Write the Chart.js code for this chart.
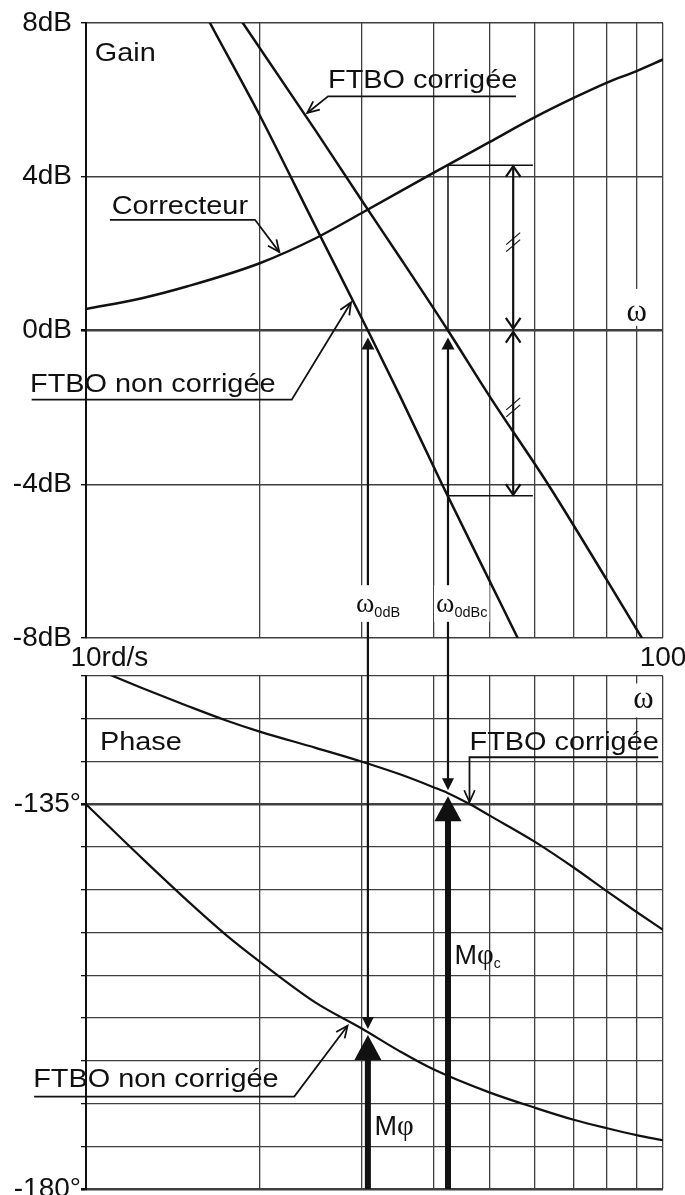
<!DOCTYPE html>
<html>
<head>
<meta charset="utf-8">
<script src="https://cdn.jsdelivr.net/npm/chart.js@4.4.1/dist/chart.umd.min.js"></script>
<style>
  html, body { margin: 0; padding: 0; background: #fff; }
  #wrap { position: relative; width: 685px; height: 1195px; overflow: hidden; }
  canvas { position: absolute; left: 0; }
  #gain { top: 0; }
  #phase { top: 673px; }
</style>
</head>
<body>
<div id="wrap">
  <canvas id="gain" width="685" height="673"></canvas>
  <canvas id="phase" width="685" height="522"></canvas>
</div>
<script>
// ---- Bode data: pulsation (rad/s) and values ----
const W_GRID = [10, 20, 30, 40, 50, 60, 70, 80, 90, 100];
const GAIN_TICKS = [-8, -4, 0, 4, 8];
const PHASE_TICKS = [-180, -175, -170, -165, -160, -155, -150, -145, -140, -135, -130, -125, -120];
const PHASE_LABELLED = [-135, -180];

// Gain (dB)
const W_GAIN_NC = [15, 16.4, 20, 25, 30.8, 35, 41.4, 50, 56, 60];
const GAIN_NC   = [9.1, 8.0, 5.6, 2.7, 0.0, -1.7, -4.0, -6.5, -8.0, -8.9];

const W_GAIN_C  = [17, 18.7, 25, 30, 35, 42.4, 50, 63.2, 80, 91.9, 100];
const GAIN_C    = [8.9, 8.0, 5.2, 3.4, 1.9, 0.0, -1.7, -4.0, -6.5, -8.0, -8.9];

const W_CORR    = [10, 12.5, 15, 20, 25, 30, 40, 50, 60, 70, 80, 90, 100];
const GAIN_CORR = [0.56, 0.84, 1.15, 1.75, 2.4, 3.05, 4.1, 4.9, 5.55, 6.05, 6.45, 6.75, 7.05];

// Phase (degrees)
const W_PHASE_NC = [10, 12.5, 15, 17.5, 20, 25, 30, 35, 40, 50, 60, 70, 80, 90, 100];
const PHASE_NC   = [-135, -141.3, -146.3, -150.3, -153.4, -158.2, -161.2, -163.9, -166.0, -168.7, -170.5, -171.9, -172.9, -173.7, -174.3];

const W_PHASE_C  = [10, 12.5, 15, 17.5, 20, 25, 30, 35, 40, 42.4, 46.3, 50, 60, 70, 80, 90, 100];
const PHASE_C    = [-118.7, -121.4, -123.5, -125.2, -126.5, -128.4, -130.0, -131.5, -133.0, -133.7, -135.0, -136.3, -139.4, -142.4, -145.2, -147.6, -149.7];

// Crossover pulsations and the values read there
const W_0DB = 30.8;            // FTBO non corrigée crosses 0 dB
const W_0DBC = 42.4;           // FTBO corrigée crosses 0 dB
const PHASE_AT_W0DB = -161.65;
const PHASE_AT_W0DBC = -133.7;
const CORR_GAIN_AT_W0DBC = 4.3;
const NC_GAIN_AT_W0DBC = -4.3;

// Annotation anchors, in axis units
const GAIN_TITLE_AT = [10.36, 7.0];
const PHASE_TITLE_AT = [10.57, -128.7];
const OMEGA_GAIN_AT = [90, 0.25];
const OMEGA_PHASE_AT = [92.5, -123.8];
const CROSS_LABEL_DB = -7.32;
const W_MARGIN_ARROW = 55;
const W_REF_END = 59.5;
const SLASH_DB = [2.3, -2.0];

const GAIN_LEADERS = [
  { text: 'FTBO corrigée', at: [26.27, 6.32], path: [[55.6, 6.09], [26.27, 6.09], [24.18, 5.66]] },
  { text: 'Correcteur', at: [11.08, 3.03], path: [[11.0, 2.88], [19.63, 2.88], [21.63, 2.04]] },
  { text: 'FTBO non corrigée', at: [8.0, -1.59], path: [[8.05, -1.80], [22.73, -1.80], [28.79, 0.73]] }
];
const PHASE_LEADERS = [
  { text: 'FTBO corrigée', at: [46.2, -128.7], path: [[98.1, -129.5], [46.2, -129.5], [46.2, -134.75]] },
  { text: 'FTBO non corrigée', at: [8.1, -168.1], path: [[8.13, -169.2], [22.96, -169.2], [28.4, -160.9]] }
];
const CROSSOVERS = [
  { w: W_0DB, sub: '0dB' },
  { w: W_0DBC, sub: '0dBc' }
];
const MARGINS = [
  { w: W_0DB, phase: PHASE_AT_W0DB, sub: '', labelAt: -173.7 },
  { w: W_0DBC, phase: PHASE_AT_W0DBC, sub: 'c', labelAt: -153.7 }
];

// ---- drawing helpers ----
const INK = '#111';
const GRID = '#3f3f3f';
const SANS = "'Liberation Sans', Arial, Helvetica, sans-serif";
const SERIF = "'Liberation Serif', 'Times New Roman', serif";

function X(chart, v) { return chart.scales.x.getPixelForValue(v); }
function Y(chart, v) { return chart.scales.y.getPixelForValue(v); }

function txt(ctx, s, x, y, size, opt = {}) {
  const family = opt.family || SANS;
  const stretch = opt.stretch === undefined ? 1.11 : opt.stretch;
  ctx.save();
  ctx.font = size + 'px ' + family;
  ctx.textBaseline = 'alphabetic';
  ctx.textAlign = 'left';
  ctx.fillStyle = INK;
  const w = ctx.measureText(s).width * stretch;
  let x0 = x;
  if (opt.align === 'center') x0 = x - w / 2;
  else if (opt.align === 'right') x0 = x - w;
  ctx.translate(x0, y);
  ctx.scale(stretch, 1);
  ctx.fillText(s, 0, 0);
  ctx.restore();
  return w;
}
function textWidth(ctx, s, size, family) {
  ctx.save(); ctx.font = size + 'px ' + family;
  const w = ctx.measureText(s).width; ctx.restore(); return w;
}
function stroke(ctx, pts, lw) {
  ctx.save();
  ctx.strokeStyle = INK; ctx.lineWidth = lw; ctx.lineJoin = 'miter'; ctx.lineCap = 'butt';
  ctx.beginPath();
  pts.forEach(([x, y], i) => i ? ctx.lineTo(x, y) : ctx.moveTo(x, y));
  ctx.stroke();
  ctx.restore();
}
function openHead(ctx, tip, from, len, ang, lw) {
  const a = Math.atan2(tip[1] - from[1], tip[0] - from[0]);
  stroke(ctx, [
    [tip[0] - len * Math.cos(a - ang), tip[1] - len * Math.sin(a - ang)],
    tip,
    [tip[0] - len * Math.cos(a + ang), tip[1] - len * Math.sin(a + ang)]
  ], lw);
}
// dir = 1 : pointing down, dir = -1 : pointing up
function solidHead(ctx, x, tipY, dir, len, half) {
  ctx.save();
  ctx.fillStyle = INK;
  ctx.beginPath();
  ctx.moveTo(x, tipY);
  ctx.lineTo(x - half, tipY - dir * len);
  ctx.lineTo(x + half, tipY - dir * len);
  ctx.closePath();
  ctx.fill();
  ctx.restore();
}
function leader(ctx, chart, L) {
  const pts = L.path.map(([w, v]) => [X(chart, w), Y(chart, v)]);
  txt(ctx, L.text, X(chart, L.at[0]), Y(chart, L.at[1]), 26);
  stroke(ctx, pts, 1.8);
  openHead(ctx, pts[pts.length - 1], pts[pts.length - 2], 13, 0.42, 1.8);
}
function crossLabelWidth(ctx, sub) {
  return textWidth(ctx, 'ω', 28, SERIF) + textWidth(ctx, sub, 14.5, SANS);
}
function crossLabel(ctx, x, base, sub) {
  const w = txt(ctx, 'ω', x, base, 28, { family: SERIF, stretch: 1 });
  txt(ctx, sub, x + w, base + 5, 14.5, { stretch: 1 });
}
function doubleArrow(ctx, x, y1, y2) {
  stroke(ctx, [[x, y1], [x, y2]], 2.2);
  openHead(ctx, [x, y1], [x, y2], 13, 0.6, 2.2);
  openHead(ctx, [x, y2], [x, y1], 13, 0.6, 2.2);
}
function slashes(ctx, x, y) {
  for (const s of [-3.5, 3.5]) stroke(ctx, [[x - 7, y + s + 6], [x + 7, y + s - 6]], 1.2);
}

function series(ws, vs, lw) {
  return {
    data: ws.map((w, i) => ({ x: w, y: vs[i] })),
    borderColor: INK,
    borderWidth: lw,
    pointRadius: 0,
    fill: false,
    cubicInterpolationMode: 'monotone'
  };
}

// ---- gain panel annotations ----
const gainNotes = {
  id: 'gainNotes',
  beforeDatasetsDraw(chart) {
    const ctx = chart.ctx;
    ctx.save();
    ctx.fillStyle = '#fff';
    const xo = X(chart, OMEGA_GAIN_AT[0]), yo = Y(chart, OMEGA_GAIN_AT[1]);
    ctx.fillRect(xo - 11, yo - 32, 22, 37);
    const base = Y(chart, CROSS_LABEL_DB);
    for (const c of CROSSOVERS) {
      const x = X(chart, c.w) - 12;
      ctx.fillRect(x - 2, base - 26.7, crossLabelWidth(ctx, c.sub) + 4, 36.7);
    }
    ctx.restore();
  },
  afterDatasetsDraw(chart) {
    const ctx = chart.ctx;
    txt(ctx, 'Gain', X(chart, GAIN_TITLE_AT[0]), Y(chart, GAIN_TITLE_AT[1]), 26);
    GAIN_LEADERS.forEach(L => leader(ctx, chart, L));
    txt(ctx, 'ω', X(chart, OMEGA_GAIN_AT[0]), Y(chart, OMEGA_GAIN_AT[1]), 31, { family: SERIF, align: 'center', stretch: 1 });

    // "rd/s" unit after the first x label
    try {
      const items = chart.scales.x.getLabelItems();
      const it = items.find(i => i.label === '10');
      if (it) {
        ctx.save();
        ctx.font = it.font.string;
        ctx.fillStyle = INK;
        ctx.textBaseline = it.options.textBaseline;
        ctx.textAlign = 'left';
        const w = ctx.measureText('10').width;
        ctx.fillText('rd/s', it.options.translation[0] + w / 2, it.options.translation[1] + it.textOffset);
        ctx.restore();
      }
    } catch (e) {}

    // correction read at the corrected crossover
    const xc = X(chart, W_0DBC), xe = X(chart, W_REF_END);
    const yTop = Y(chart, CORR_GAIN_AT_W0DBC), y0 = Y(chart, 0), yBot = Y(chart, NC_GAIN_AT_W0DBC);
    stroke(ctx, [[xc, yTop], [xc, y0]], 1.5);
    stroke(ctx, [[xc, yTop], [xe, yTop]], 1.5);
    stroke(ctx, [[xc, yBot], [xe, yBot]], 1.5);
    const xa = X(chart, W_MARGIN_ARROW);
    doubleArrow(ctx, xa, yTop + 1, y0 - 2);
    doubleArrow(ctx, xa, y0 + 1.5, yBot - 1);
    SLASH_DB.forEach(v => slashes(ctx, xa, Y(chart, v)));

    // crossover arrows
    const base = Y(chart, CROSS_LABEL_DB);
    for (const c of CROSSOVERS) {
      const x = X(chart, c.w);
      const tip = y0 + 7;
      solidHead(ctx, x, tip, -1, 12, 6.5);
      stroke(ctx, [[x, tip + 11], [x, base - 26.7]], 2.2);
      stroke(ctx, [[x, base + 10], [x, chart.height]], 2.2);
      crossLabel(ctx, x - 12, base, c.sub);
    }
  }
};

// ---- phase panel annotations ----
const phaseNotes = {
  id: 'phaseNotes',
  beforeDatasetsDraw(chart) {
    const ctx = chart.ctx;
    ctx.save();
    ctx.fillStyle = '#fff';
    const xo = X(chart, OMEGA_PHASE_AT[0]), yo = Y(chart, OMEGA_PHASE_AT[1]);
    ctx.fillRect(xo - 13, yo - 25, 26, 34);
    ctx.restore();
  },
  afterDatasetsDraw(chart) {
    const ctx = chart.ctx;
    txt(ctx, 'Phase', X(chart, PHASE_TITLE_AT[0]), Y(chart, PHASE_TITLE_AT[1]), 26);
    txt(ctx, 'ω', X(chart, OMEGA_PHASE_AT[0]), Y(chart, OMEGA_PHASE_AT[1]), 31, { family: SERIF, align: 'center', stretch: 1 });
    PHASE_LEADERS.forEach(L => leader(ctx, chart, L));

    for (const m of MARGINS) {
      const x = X(chart, m.w);
      const yc = Y(chart, m.phase);
      // crossover line coming down from the gain panel
      stroke(ctx, [[x, 0], [x, yc - 3 - 11]], 2.2);
      solidHead(ctx, x, yc - 3, 1, 12, 6);
      // phase margin arrow
      const tip = yc + 3;
      stroke(ctx, [[x, Y(chart, -180)], [x, tip + 24]], 6);
      solidHead(ctx, x, tip, -1, 25, 13.5);
      // label
      let xx = x + 6.5;
      const b = Y(chart, m.labelAt);
      xx += txt(ctx, 'M', xx, b, 27, { stretch: 1 });
      xx += txt(ctx, 'φ', xx, b, 29, { family: SERIF, stretch: 1 });
      if (m.sub) txt(ctx, m.sub, xx, b + 4, 14, { stretch: 1 });
    }
  }
};

Chart.defaults.color = INK;
Chart.defaults.font.family = SANS;

const common = {
  responsive: false,
  animation: false,
  devicePixelRatio: 1,
  plugins: { legend: { display: false }, tooltip: { enabled: false } },
  events: []
};

new Chart(document.getElementById('gain'), {
  type: 'line',
  data: { datasets: [series(W_GAIN_NC, GAIN_NC, 2.5), series(W_GAIN_C, GAIN_C, 2.5), series(W_CORR, GAIN_CORR, 2.5)] },
  options: Object.assign({}, common, {
    layout: { padding: { top: 23, right: 22, bottom: 0, left: 0 } },
    scales: {
      x: {
        type: 'logarithmic', min: 10, max: 100, position: 'bottom',
        afterBuildTicks: s => { s.ticks = W_GRID.map(v => ({ value: v })); },
        grid: { color: GRID, lineWidth: 1.3, drawTicks: false },
        border: { display: false },
        ticks: {
          autoSkip: false, maxRotation: 0, minRotation: 0, padding: 3,
          color: INK, font: { family: SANS, size: 28 },
          callback: v => (v === 10 ? '10' : (v === 100 ? '100' : ''))
        },
        afterFit: s => { s.height = 35; s.paddingLeft = 0; s.paddingRight = 0; }
      },
      y: {
        min: -8, max: 8,
        afterBuildTicks: s => { s.ticks = GAIN_TICKS.map(v => ({ value: v })); },
        grid: {
          color: GRID, tickColor: INK, tickLength: 5, drawTicks: true,
          lineWidth: c => (c.tick && c.tick.value === 0 ? 2.6 : 1.4)
        },
        border: { display: true, color: INK, width: 2 },
        ticks: {
          padding: 9, color: INK, font: { family: SANS, size: 28 },
          callback: v => v + 'dB'
        },
        afterFit: s => { s.width = 86; s.paddingTop = 0; s.paddingBottom = 0; }
      }
    }
  }),
  plugins: [gainNotes]
});

new Chart(document.getElementById('phase'), {
  type: 'line',
  data: { datasets: [series(W_PHASE_NC, PHASE_NC, 2.2), series(W_PHASE_C, PHASE_C, 2.2)] },
  options: Object.assign({}, common, {
    layout: { padding: { top: 3, right: 22, bottom: 6, left: 0 } },
    scales: {
      x: {
        type: 'logarithmic', min: 10, max: 100, position: 'bottom',
        afterBuildTicks: s => { s.ticks = W_GRID.map(v => ({ value: v })); },
        grid: { color: GRID, lineWidth: 1.3, drawTicks: false },
        border: { display: false },
        ticks: { display: false, autoSkip: false },
        afterFit: s => { s.height = 0; s.paddingLeft = 0; s.paddingRight = 0; }
      },
      y: {
        min: -180, max: -120,
        afterBuildTicks: s => { s.ticks = PHASE_TICKS.map(v => ({ value: v })); },
        grid: {
          color: GRID, tickColor: INK, tickLength: 5, drawTicks: true,
          lineWidth: c => (c.tick && (c.tick.value === -135 || c.tick.value === -180) ? 2.6 : 1.3)
        },
        border: { display: true, color: INK, width: 2 },
        ticks: {
          padding: 0, autoSkip: false, color: INK, font: { family: SANS, size: 28 },
          callback: v => (PHASE_LABELLED.includes(v) ? v + '°' : '')
        },
        afterFit: s => { s.width = 86; s.paddingTop = 0; s.paddingBottom = 0; }
      }
    }
  }),
  plugins: [phaseNotes]
});
</script>
</body>
</html>
